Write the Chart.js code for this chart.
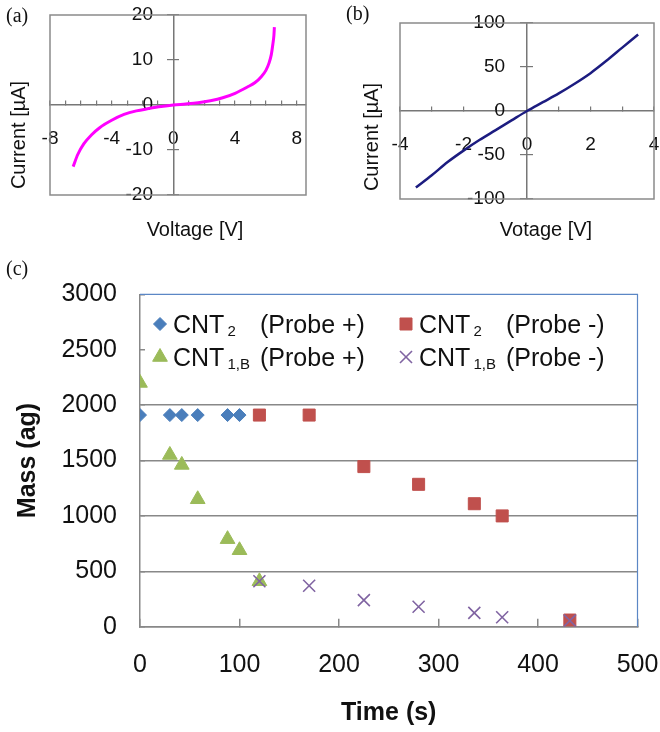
<!DOCTYPE html>
<html>
<head>
<meta charset="utf-8">
<script src="https://cdn.jsdelivr.net/npm/chart.js@4.4.1/dist/chart.umd.min.js"></script>
<style>
  html, body { margin: 0; padding: 0; background: #fff; }
  #page { position: relative; width: 660px; height: 732px; overflow: hidden; }
  canvas { position: absolute; }
  .tag { position: absolute; font: 20px "Liberation Serif", "DejaVu Serif", serif; color: #111; line-height: 1; }
</style>
</head>
<body>
<div id="page">
  <canvas id="chartA" width="330" height="250" style="left:0;top:0"></canvas>
  <canvas id="chartB" width="330" height="250" style="left:330px;top:0"></canvas>
  <canvas id="chartC" width="660" height="482" style="left:0;top:250px"></canvas>
  <div class="tag" style="left:6px;top:5px">(a)</div>
  <div class="tag" style="left:346px;top:3px">(b)</div>
  <div class="tag" style="left:6px;top:258px">(c)</div>
</div>
<script>
// (a) I-V curve
const voltA = [-6.5, -6.2, -5.8, -5.3, -4.8, -4.0, -3.2, -2.4, -1.6, -0.8, 0, 0.8, 1.6, 2.4, 3.2, 4.0, 4.8, 5.3, 5.7, 6.0, 6.2, 6.35, 6.45, 6.52, 6.55];
const currentA = [-13.7, -11.0, -8.6, -6.6, -5.1, -3.4, -2.1, -1.3, -0.8, -0.35, 0, 0.22, 0.5, 0.95, 1.6, 2.6, 4.0, 5.0, 6.3, 7.7, 9.3, 11.2, 13.5, 15.5, 17.3];
const voltTicksA = [-8, -7, -6, -5, -4, -3, -2, -1, 0, 1, 2, 3, 4, 5, 6, 7, 8];

// (b) I-V curve
const voltB = [-3.5, -3, -2.5, -2, -1.5, -1, -0.5, 0, 0.5, 1, 1.5, 2, 2.5, 3, 3.5];
const currentB = [-87, -73, -58, -45, -33, -22, -11, 0, 10, 20, 31, 43, 57, 72, 87];
const voltTicksB = [-4, -3, -2, -1, 0, 1, 2, 3, 4];

// (c) mass vs time
const timeCnt2Plus = [0, 30, 42, 58, 88, 100];
const massCnt2Plus = [1910, 1910, 1910, 1910, 1910, 1910];
const timeCnt2Minus = [120, 170, 225, 280, 336, 364, 432];
const massCnt2Minus = [1910, 1910, 1445, 1285, 1110, 1000, 60];
const timeCnt1bPlus = [0, 30, 42, 58, 88, 100, 120];
const massCnt1bPlus = [2200, 1550, 1460, 1150, 790, 690, 410];
const timeCnt1bMinus = [120, 170, 225, 280, 336, 364, 432];
const massCnt1bMinus = [410, 370, 240, 180, 125, 85, 55];

const legendNames = ['CNT', 'CNT', 'CNT', 'CNT'];
const legendSubs = ['2', '2', '1,B', '1,B'];
const legendProbe = ['(Probe +)', '(Probe -)', '(Probe +)', '(Probe -)'];

const FAMILY = '"Liberation Sans", Arial, sans-serif';
const INK = '#111';

function toPoints(xs, ys) {
    return xs.map((x, i) => ({ x: x, y: ys[i] }));
}

// fixed axis box size, and no extra room asked for labels
function fixBox(size) {
    return s => {
        if (s.isHorizontal()) s.height = size; else s.width = size;
        s.paddingLeft = s.paddingRight = s.paddingTop = s.paddingBottom = 0;
    };
}

// grey box round the plot area
const framePlugin = {
    id: 'frame',
    beforeDatasetsDraw(chart) {
        const a = chart.chartArea;
        const ctx = chart.ctx;
        ctx.save();
        ctx.strokeStyle = '#8a8a8a';
        ctx.lineWidth = 1.5;
        ctx.strokeRect(a.left, a.top, a.right - a.left, a.bottom - a.top);
        ctx.restore();
    }
};

// axis titles placed where the figure has them
function axisTitles(items) {
    return {
        id: 'axisTitles',
        afterDraw(chart) {
            const ctx = chart.ctx;
            items.forEach(t => {
                ctx.save();
                ctx.translate(t.x, t.y);
                if (t.rotate) ctx.rotate(t.rotate);
                ctx.font = '20px ' + FAMILY;
                ctx.fillStyle = INK;
                ctx.textAlign = 'center';
                ctx.textBaseline = 'middle';
                ctx.fillText(t.text, 0, 0);
                ctx.restore();
            });
        }
    };
}

function ivScales(xMin, xMax, xTicks, xLabelStep, yMax, yStep, yLabelPad) {
    const tickFont = { family: FAMILY, size: 19 };
    return {
        x: {
            type: 'linear', min: xMin, max: xMax, position: { y: 0 },
            afterBuildTicks: s => { s.ticks = xTicks.map(v => ({ value: v })); },
            ticks: { autoSkip: false, maxRotation: 0, padding: 27, font: tickFont, color: INK,
                callback: v => (v % xLabelStep === 0 ? v : '') },
            grid: { drawOnChartArea: false, tickLength: -5, color: '#777', lineWidth: 1.2 },
            border: { color: '#777', width: 1.5 },
            afterFit: fixBox(0)
        },
        // zero line with left half of the tick marks
        y: {
            type: 'linear', min: -yMax, max: yMax, position: { x: 0 },
            ticks: { stepSize: yStep, display: false },
            grid: { drawOnChartArea: false, tickLength: 6, color: '#777', lineWidth: 1.2 },
            border: { color: '#777', width: 1.5 },
            afterFit: fixBox(0)
        },
        // right half of the tick marks
        yTick: {
            type: 'linear', min: -yMax, max: yMax, position: { x: 0 },
            ticks: { stepSize: yStep, display: false },
            grid: { drawOnChartArea: false, tickLength: -6, color: '#777', lineWidth: 1.2 },
            border: { display: false },
            afterFit: fixBox(0)
        },
        // tick labels just left of the zero line
        yLab: {
            type: 'linear', min: -yMax, max: yMax, position: 'left',
            ticks: { stepSize: yStep, mirror: true, crossAlign: 'far', padding: yLabelPad, font: tickFont, color: INK },
            grid: { display: false },
            border: { display: false },
            afterFit: fixBox(0)
        }
    };
}

new Chart(document.getElementById('chartA'), {
    type: 'scatter',
    data: {
        datasets: [{
            data: toPoints(voltA, currentA),
            showLine: true,
            borderColor: '#ff00ff',
            borderWidth: 3,
            pointRadius: 0,
            cubicInterpolationMode: 'monotone'
        }]
    },
    options: {
        responsive: false,
        animation: false,
        layout: { padding: { left: 50, right: 24, top: 15, bottom: 55 } },
        plugins: { legend: { display: false }, tooltip: { enabled: false } },
        scales: ivScales(-8, 8.6, voltTicksA, 4, 20, 10, 75.5)
    },
    plugins: [framePlugin, axisTitles([
        { text: 'Current [µA]', x: 19, y: 135, rotate: -Math.PI / 2 },
        { text: 'Voltage [V]', x: 195, y: 230 }
    ])]
});

new Chart(document.getElementById('chartB'), {
    type: 'scatter',
    data: {
        datasets: [{
            data: toPoints(voltB, currentB),
            showLine: true,
            borderColor: '#1c1c80',
            borderWidth: 2.5,
            pointRadius: 0,
            cubicInterpolationMode: 'monotone'
        }]
    },
    options: {
        responsive: false,
        animation: false,
        layout: { padding: { left: 70, right: 6, top: 23, bottom: 51 } },
        plugins: { legend: { display: false }, tooltip: { enabled: false } },
        scales: ivScales(-4, 4, voltTicksB, 2, 100, 50, 67)
    },
    plugins: [framePlugin, axisTitles([
        { text: 'Current [µA]', x: 42, y: 137, rotate: -Math.PI / 2 },
        { text: 'Votage [V]', x: 216, y: 230 }
    ])]
});

// blue top / right edges of plot (c)
const blueEdges = {
    id: 'blueEdges',
    beforeDatasetsDraw(chart) {
        const a = chart.chartArea;
        const ctx = chart.ctx;
        ctx.save();
        ctx.strokeStyle = '#5b87c5';
        ctx.lineWidth = 1.2;
        ctx.beginPath();
        ctx.moveTo(a.left, a.top);
        ctx.lineTo(a.right, a.top);
        ctx.lineTo(a.right, a.bottom);
        ctx.stroke();
        ctx.restore();
    }
};

// legend with subscripts, two columns inside the plot
const massLegend = {
    id: 'massLegend',
    afterDraw(chart) {
        const ctx = chart.ctx;
        chart.data.datasets.forEach((ds, i) => {
            const col = i % 2;
            const row = Math.floor(i / 2);
            const mx = 160 + col * 246;
            const my = 74 + row * 33;
            const tx = mx + 13;
            ctx.save();
            ctx.fillStyle = ds.backgroundColor;
            ctx.strokeStyle = ds.borderColor;
            ctx.lineWidth = ds.borderWidth;
            Chart.helpers.drawPoint(ctx, { pointStyle: ds.pointStyle, radius: ds.pointRadius, rotation: 0, borderWidth: ds.borderWidth }, mx, my);
            ctx.fillStyle = INK;
            ctx.textBaseline = 'alphabetic';
            ctx.textAlign = 'left';
            ctx.font = '25px ' + FAMILY;
            const base = my + 9;
            ctx.fillText(legendNames[i], tx, base);
            const w = ctx.measureText(legendNames[i]).width;
            ctx.font = '15px ' + FAMILY;
            ctx.fillText(legendSubs[i], tx + w + 3, base + 3);
            ctx.font = '25px ' + FAMILY;
            ctx.fillText(legendProbe[i], tx + 87, base);
            ctx.restore();
        });
    }
};

new Chart(document.getElementById('chartC'), {
    type: 'scatter',
    data: {
        datasets: [
            { label: 'CNT2 (Probe +)', data: toPoints(timeCnt2Plus, massCnt2Plus), pointStyle: 'rectRot', pointRadius: 6.5,
              backgroundColor: '#4a7ebb', borderColor: '#4a7ebb', borderWidth: 1, order: 3 },
            { label: 'CNT2 (Probe -)', data: toPoints(timeCnt2Minus, massCnt2Minus), pointStyle: 'rect', pointRadius: 8.5,
              backgroundColor: '#c0504d', borderColor: '#c0504d', borderWidth: 1, order: 2 },
            { label: 'CNT1,B (Probe +)', data: toPoints(timeCnt1bPlus, massCnt1bPlus), pointStyle: 'triangle', pointRadius: 8.5,
              backgroundColor: '#9bbb59', borderColor: '#9bbb59', borderWidth: 1, order: 1 },
            { label: 'CNT1,B (Probe -)', data: toPoints(timeCnt1bMinus, massCnt1bMinus), pointStyle: 'crossRot', pointRadius: 8.5,
              backgroundColor: '#8064a2', borderColor: '#8064a2', borderWidth: 1.6, order: 0 }
        ]
    },
    options: {
        responsive: false,
        animation: false,
        layout: { padding: { left: 0, right: 22.5, top: 44.3, bottom: 0 } },
        plugins: { legend: { display: false }, tooltip: { enabled: false } },
        scales: {
            x: {
                type: 'linear', min: 0, max: 500,
                ticks: { stepSize: 100, padding: 31, maxRotation: 0, font: { family: FAMILY, size: 25 }, color: INK },
                grid: { drawOnChartArea: false, tickLength: -8, color: '#888', lineWidth: 1.5 },
                border: { color: '#888', width: 1.5 },
                title: { display: true, text: 'Time (s)', color: INK, font: { family: FAMILY, size: 25, weight: 'bold' }, padding: { top: 0, bottom: 4 } },
                afterFit: fixBox(105.3)
            },
            y: {
                type: 'linear', min: 0, max: 3000,
                ticks: { stepSize: 500, padding: 28, font: { family: FAMILY, size: 25 }, color: INK, callback: v => String(v) },
                grid: {
                    color: c => (c.tick && c.tick.value >= 2500 ? 'rgba(0,0,0,0)' : '#888'),
                    tickColor: '#888', tickLength: -5, lineWidth: 1.5
                },
                border: { color: '#888', width: 1.5 },
                title: { display: true, text: 'Mass (ag)', color: INK, font: { family: FAMILY, size: 25, weight: 'bold' }, padding: { top: 13, bottom: 0 } },
                afterFit: fixBox(140)
            }
        }
    },
    plugins: [blueEdges, massLegend]
});
</script>
</body>
</html>
